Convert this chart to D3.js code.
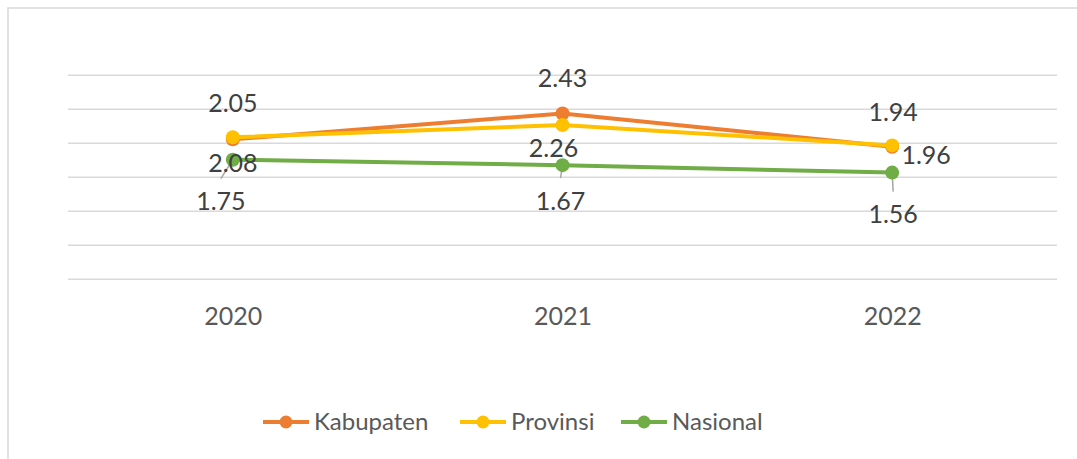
<!DOCTYPE html>
<html>
<head>
<meta charset="utf-8">
<script src="https://cdn.jsdelivr.net/npm/d3@7/dist/d3.min.js"></script>
<style>
  html, body { margin: 0; padding: 0; background: #fff; }
  svg { display: block; }
  text { font-family: Lato, "Open Sans", sans-serif; }
</style>
</head>
<body>
<svg id="chart" width="1077" height="459"></svg>
<script>
// ---- data ----
const categories = ["2020", "2021", "2022"];
const seriesNames = ["Kabupaten", "Provinsi", "Nasional"];
const kabupaten = [2.05, 2.43, 1.94];
const provinsi = [2.08, 2.26, 1.96];
const nasional = [1.75, 1.67, 1.56];
const yTicks = [0, 0.5, 1, 1.5, 2, 2.5, 3];

// ---- styles / layout ----
const colors = ["#ED7D31", "#FFC000", "#70AD47"];
// label placement offsets (pixels from point) per series per category
const labelOffsets = [
  [[0, -36], [0, -35], [1, -35]],
  [[0, 26], [-9, 23], [34, 10]],
  [[-12, 42], [-2, 36], [1, 42]]
];
const hasLeader = [false, false, true];

const svg = d3.select("#chart");
const W = 1077, H = 459;
const plotLeft = 68, plotRight = 1057, plotTop = 74.7, plotBottom = 278.7;

// chart border (left and top visible)
svg.append("rect")
  .attr("x", 8).attr("y", 8)
  .attr("width", W + 20).attr("height", H + 20)
  .attr("fill", "none").attr("stroke", "#D9D9D9").attr("stroke-width", 1.5);

const x = d3.scalePoint().domain(categories).range([plotLeft, plotRight]).padding(0.5);
const y = d3.scaleLinear().domain([0, 3]).range([plotBottom, plotTop]);

// gridlines
const yAxis = d3.axisLeft(y).tickValues(yTicks).tickSize(-(plotRight - plotLeft)).tickFormat("");
const gy = svg.append("g").attr("transform", `translate(${plotLeft},0)`).call(yAxis);
gy.select(".domain").remove();
gy.selectAll(".tick line").attr("stroke", "#D9D9D9").attr("stroke-width", 1.5);

// x axis labels
const xAxis = d3.axisBottom(x).tickSize(0).tickPadding(0);
const gx = svg.append("g").attr("transform", `translate(0,${plotBottom})`).call(xAxis);
gx.select(".domain").remove();
gx.selectAll(".tick text")
  .attr("y", 38).attr("dy", "0.35em")
  .attr("fill", "#595959").attr("font-size", 25)
  .style("font-family", "Lato, 'Open Sans', sans-serif");

const allSeries = [kabupaten, provinsi, nasional];

const line = d3.line().x((d, i) => x(categories[i])).y(d => y(d));

// leader lines first (below markers)
allSeries.forEach((vals, s) => {
  if (!hasLeader[s]) return;
  vals.forEach((v, i) => {
    const px = x(categories[i]), py = y(v);
    const lx = px + labelOffsets[s][i][0], lyy = py + labelOffsets[s][i][1];
    svg.append("line")
      .attr("x1", px).attr("y1", py)
      .attr("x2", lx).attr("y2", lyy - 23)
      .attr("stroke", "#A6A6A6").attr("stroke-width", 1.5);
  });
});

allSeries.forEach((vals, s) => {
  svg.append("path")
    .datum(vals)
    .attr("d", line)
    .attr("fill", "none")
    .attr("stroke", colors[s])
    .attr("stroke-width", 4)
    .attr("stroke-linejoin", "round");
  svg.selectAll(null).data(vals).enter().append("circle")
    .attr("cx", (d, i) => x(categories[i]))
    .attr("cy", d => y(d))
    .attr("r", 7)
    .attr("fill", colors[s]);
});

// data labels
allSeries.forEach((vals, s) => {
  svg.selectAll(null).data(vals).enter().append("text")
    .attr("x", (d, i) => x(categories[i]) + labelOffsets[s][i][0])
    .attr("y", (d, i) => y(d) + labelOffsets[s][i][1])
    .attr("dy", "0.35em")
    .attr("text-anchor", "middle")
    .attr("font-size", 25)
    .attr("fill", "#404040")
    .text(d => d.toFixed(2));
});

// legend
const legendItems = [
  { name: seriesNames[0], x0: 263 },
  { name: seriesNames[1], x0: 460 },
  { name: seriesNames[2], x0: 621 }
];
const legendY = 422;
legendItems.forEach((it, s) => {
  const g = svg.append("g");
  g.append("line")
    .attr("x1", it.x0).attr("x2", it.x0 + 46)
    .attr("y1", legendY).attr("y2", legendY)
    .attr("stroke", colors[s]).attr("stroke-width", 4);
  g.append("circle")
    .attr("cx", it.x0 + 23).attr("cy", legendY).attr("r", 6.5)
    .attr("fill", colors[s]);
  g.append("text")
    .attr("x", it.x0 + 51).attr("y", legendY)
    .attr("dy", "0.35em")
    .attr("font-size", 24)
    .attr("fill", "#595959")
    .text(it.name);
});
</script>
</body>
</html>
